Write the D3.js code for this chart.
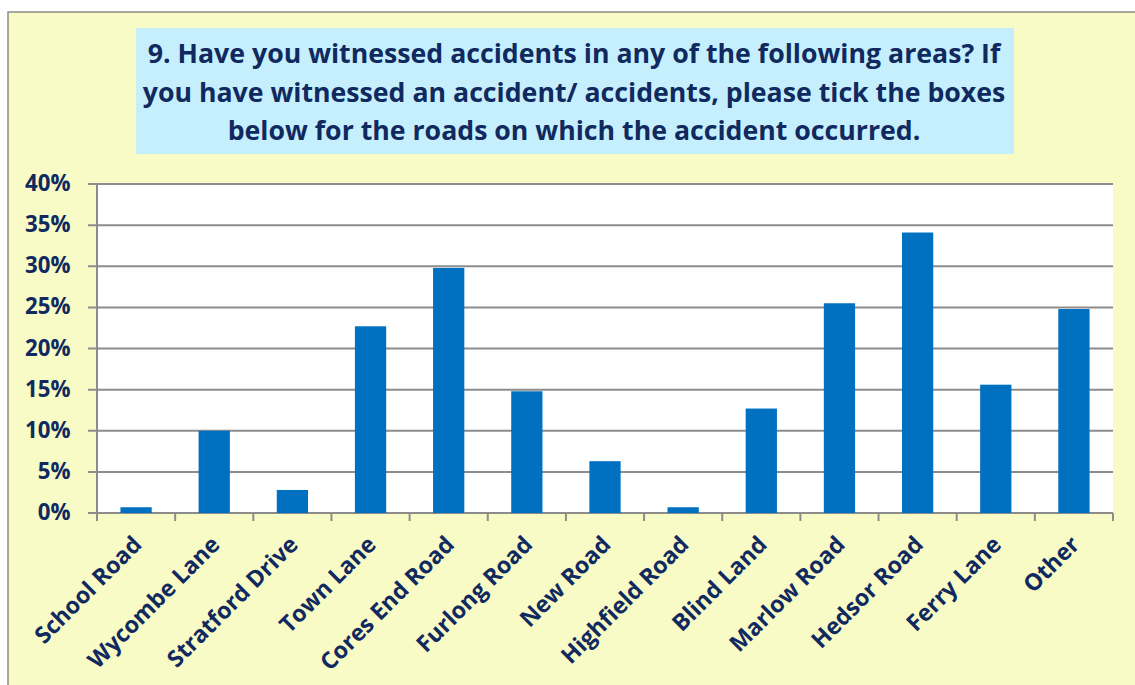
<!DOCTYPE html>
<html>
<head>
<meta charset="utf-8">
<script src="https://cdn.jsdelivr.net/npm/d3@7"></script>
<style>
  body { margin: 0; background: #fff; }
  text { font-family: "Open Sans", Lato, sans-serif; font-weight: bold; fill: #10295f; }
</style>
</head>
<body>
<div id="chart"></div>
<script>
// Data
const roads = ["School Road", "Wycombe Lane", "Stratford Drive", "Town Lane", "Cores End Road",
  "Furlong Road", "New Road", "Highfield Road", "Blind Land", "Marlow Road", "Hedsor Road",
  "Ferry Lane", "Other"];
const percents = [0.7, 10.0, 2.8, 22.7, 29.8, 14.8, 6.3, 0.7, 12.7, 25.5, 34.1, 15.6, 24.8];
const yTicks = [0, 5, 10, 15, 20, 25, 30, 35, 40];
const titleLines = [
  "9. Have you witnessed accidents in any of the following areas? If",
  "you have witnessed an accident/ accidents, please tick the boxes",
  "below for the roads on which the accident occurred."
];

const W = 1135, H = 685;
const margin = { top: 184, right: 22, bottom: 172, left: 97 };
const width = W - margin.left - margin.right;
const height = H - margin.top - margin.bottom;

// scale font size of a selection so that its first text has the target width
function fitSize(sel, base, target) {
  sel.style("font-size", base + "px");
  const len = sel.node().getComputedTextLength();
  sel.style("font-size", (base * target / len) + "px");
}

const svg = d3.select("#chart").append("svg")
  .attr("width", W)
  .attr("height", H);

// Chart area background and frame
svg.append("rect")
  .attr("x", 8).attr("y", 12)
  .attr("width", W).attr("height", H)
  .attr("fill", "#f8fbc6")
  .attr("stroke", "#8c8c8c")
  .attr("stroke-width", 1.5);

// Title box
svg.append("rect")
  .attr("x", 136).attr("y", 28)
  .attr("width", 878).attr("height", 126)
  .attr("fill", "#c6effd");

const title = svg.append("g").selectAll("text")
  .data(titleLines)
  .enter().append("text")
  .attr("x", 574)
  .attr("y", (d, i) => 63 + i * 38.5)
  .attr("text-anchor", "middle")
  .text(d => d);
fitSize(title, 26, 853);

const g = svg.append("g")
  .attr("transform", "translate(" + margin.left + "," + margin.top + ")");

// Plot area
g.append("rect")
  .attr("width", width).attr("height", height)
  .attr("fill", "#fff");

const x = d3.scaleBand()
  .domain(roads)
  .range([0, width])
  .paddingInner(0.6)
  .paddingOuter(0.3);

const y = d3.scaleLinear()
  .domain([0, 40])
  .range([height, 0]);

// Gridlines
g.append("g").selectAll("line")
  .data(yTicks)
  .enter().append("line")
  .attr("x1", -9).attr("x2", width)
  .attr("y1", d => y(d)).attr("y2", d => y(d))
  .attr("stroke", "#8c8c8c")
  .attr("stroke-width", 2);

// Y axis line
g.append("line")
  .attr("x1", 0).attr("x2", 0)
  .attr("y1", 0).attr("y2", height + 8)
  .attr("stroke", "#8c8c8c")
  .attr("stroke-width", 2);

// Y labels
const yLabels = g.append("g").selectAll("text")
  .data(yTicks.slice().reverse())
  .enter().append("text")
  .attr("x", -26.5)
  .attr("y", d => y(d) + 7)
  .attr("text-anchor", "end")
  .text(d => d + "%");
fitSize(yLabels, 20, 45.5);

// X tick marks at band boundaries
const step = x.step();
g.append("g").selectAll("line")
  .data(d3.range(roads.length + 1))
  .enter().append("line")
  .attr("x1", i => i * step).attr("x2", i => i * step)
  .attr("y1", height).attr("y2", height + 8)
  .attr("stroke", "#8c8c8c")
  .attr("stroke-width", 2);

// Bars
g.append("g").selectAll("rect")
  .data(roads)
  .enter().append("rect")
  .attr("x", d => x(d))
  .attr("y", (d, i) => y(percents[i]))
  .attr("width", x.bandwidth())
  .attr("height", (d, i) => height - y(percents[i]))
  .attr("fill", "#0070c0");

// X labels rotated
const xLabels = g.append("g").selectAll("text")
  .data(roads)
  .enter().append("text")
  .attr("text-anchor", "end")
  .attr("transform", d => "translate(" + (x(d) + x.bandwidth() / 2 + 7) + "," + (height + 33) + ") rotate(-45)")
  .text(d => d);
fitSize(xLabels, 20, 140);
</script>
</body>
</html>
